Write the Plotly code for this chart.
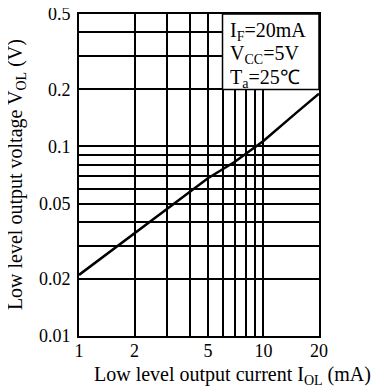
import numpy as np
import plotly.graph_objects as go

# Data
current_mA = [1, 2, 3, 5, 7, 10, 15, 20]
voltage_V = [0.021, 0.035, 0.047, 0.068, 0.083, 0.107, 0.15, 0.19]

x_tickvals = [1, 2, 3, 4, 5, 6, 7, 8, 9, 10, 20]
x_ticktext = ["1", "2", "", "", "5", "", "", "", "", "10", "20"]
y_tickvals = [0.01, 0.02, 0.03, 0.04, 0.05, 0.06, 0.07, 0.08, 0.09, 0.1, 0.2, 0.3, 0.4, 0.5]
y_ticktext = ["0.01", "0.02", "", "", "0.05", "", "", "", "", "0.1", "0.2", "", "", "0.5"]

conditions = ["I<sub>F</sub>=20mA", "V<sub>CC</sub>=5V", "T<sub>a</sub>=25℃"]

FONT = "Liberation Serif"
x_range = [0, np.log10(20) + 0.0003]
y_range = [-2.0003, np.log10(0.5) + 0.0003]

fig = go.Figure()
fig.add_trace(go.Scatter(x=current_mA, y=voltage_V, mode="lines",
                         line=dict(color="black", width=2.5), showlegend=False))

axis_common = dict(showgrid=True, gridcolor="black", gridwidth=1.5,
                   showline=True, linecolor="black", linewidth=2, mirror=True,
                   zeroline=False, ticklabeloverflow="allow", automargin=False,
                   tickfont=dict(family=FONT, size=18, color="black"))
fig.update_xaxes(type="log", range=x_range, tickmode="array", ticks="",
                 ticklabelstandoff=-3,
                 tickvals=x_tickvals, ticktext=x_ticktext, **axis_common)
fig.update_yaxes(type="log", range=y_range, tickmode="array",
                 ticks="outside", ticklen=3, tickcolor="rgba(0,0,0,0)",
                 tickvals=y_tickvals, ticktext=y_ticktext, **axis_common)

# white box holding conditions
bx0 = np.log10(6) / (np.log10(20) + 0.0003)
by0 = (np.log10(0.2) + 2.0003) / (np.log10(0.5) + 2.0006)
fig.add_shape(type="rect", xref="x domain", yref="y domain",
              x0=bx0, x1=1, y0=by0, y1=1,
              fillcolor="white", line=dict(color="black", width=1.5), layer="above")
for txt, yy in zip(conditions, [0.946, 0.873, 0.800]):
    fig.add_annotation(xref="x domain", yref="y domain", x=0.620, y=yy,
                       xanchor="left", yanchor="middle", showarrow=False,
                       text=txt, font=dict(family=FONT, size=20, color="black"))

fig.add_annotation(xref="paper", yref="paper", x=0.640, y=-0.124,
                   xanchor="center", yanchor="middle", showarrow=False,
                   text="Low level output current I<sub>OL</sub> (mA)",
                   font=dict(family=FONT, size=20, color="black"))
fig.add_annotation(xref="paper", yref="paper", x=-0.262, y=0.5,
                   xanchor="center", yanchor="middle", showarrow=False, textangle=-90,
                   text="Low level output voltage V<sub>OL</sub> (V)",
                   font=dict(family=FONT, size=20, color="black"))

fig.update_layout(width=375, height=380, margin=dict(l=71, r=64, t=6, b=52),
                  paper_bgcolor="white", plot_bgcolor="white",
                  font=dict(family=FONT, color="black"))
fig.write_html("out.html")
